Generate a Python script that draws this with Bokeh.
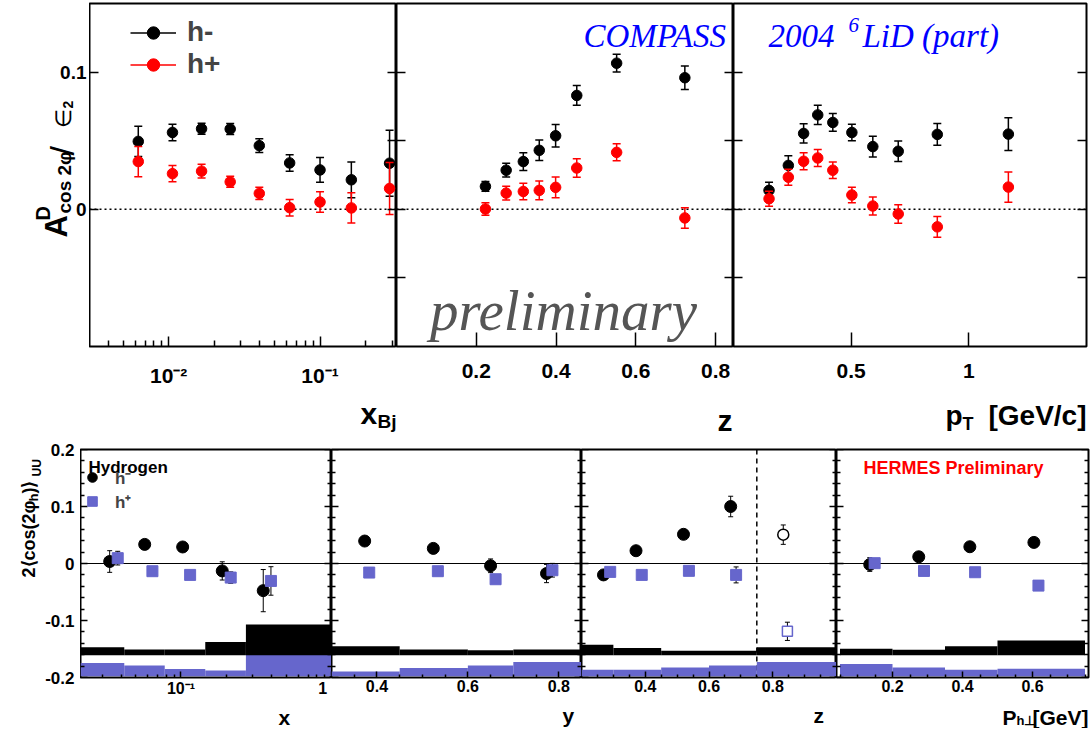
import math
from bokeh.plotting import figure
from bokeh.models import (ColumnDataSource, FixedTicker, LinearAxis, Span, Label,
                          Legend, LegendItem, CustomJSTickFormatter, Range1d)
from bokeh.layouts import row, column
from bokeh.embed import file_html
from bokeh.resources import INLINE

# ================= COMPASS 2004 6LiD (part) : top row =================
xbj = [0.0063, 0.0106, 0.0165, 0.0255, 0.0397, 0.063, 0.100, 0.161, 0.288]
xbj_hm = [0.0495, 0.0560, 0.0587, 0.0585, 0.0464, 0.0338, 0.0287, 0.0215, 0.0336]
xbj_hm_err = [0.011, 0.006, 0.004, 0.004, 0.005, 0.006, 0.009, 0.013, 0.024]
xbj_hp = [0.0348, 0.0260, 0.0278, 0.0200, 0.0116, 0.0012, 0.0053, 0.0010, 0.0152]
xbj_hp_err = [0.011, 0.006, 0.005, 0.004, 0.0045, 0.006, 0.0075, 0.011, 0.019]

zc = [0.223, 0.275, 0.318, 0.358, 0.399, 0.452, 0.552, 0.723]
zc_hm = [0.0167, 0.0285, 0.0348, 0.0430, 0.0536, 0.0830, 0.1065, 0.0959]
zc_hm_err = [0.0036, 0.0050, 0.0065, 0.0075, 0.0082, 0.0072, 0.0065, 0.0085]
zc_hp = [0.0002, 0.0118, 0.0130, 0.0138, 0.0160, 0.0301, 0.0415, -0.0063]
zc_hp_err = [0.0045, 0.0050, 0.0060, 0.0068, 0.0075, 0.0068, 0.0062, 0.0075]

pt = [0.151, 0.233, 0.298, 0.358, 0.422, 0.503, 0.592, 0.700, 0.866, 1.168]
pt_hm = [0.0138, 0.0320, 0.0553, 0.0688, 0.0633, 0.0560, 0.0457, 0.0423, 0.0546, 0.0548]
pt_hm_err = [0.006, 0.007, 0.007, 0.007, 0.0065, 0.006, 0.0075, 0.0075, 0.008, 0.012]
pt_hp = [0.0077, 0.0234, 0.0350, 0.0374, 0.0285, 0.0104, 0.0024, -0.0034, -0.0128, 0.0162]
pt_hp_err = [0.0055, 0.0058, 0.0062, 0.0062, 0.0060, 0.0057, 0.0065, 0.0068, 0.0075, 0.011]

c_y_range = (-0.1, 0.15)
c_xbj_range = (0.003, 0.32)
c_z_range = (0.0, 0.845)
c_pt_range = (0.0, 1.5)

c_y_ticks = [-0.05, 0.0, 0.05, 0.1]
c_y_label_ticks = [0.0, 0.1]
c_y_labels = ["0", "0.1"]
c_xbj_ticks = [0.01, 0.1]
c_xbj_labels = ["10\u207b\u00b2", "10\u207b\u00b9"]
c_xbj_minor = [k * 0.001 for k in range(4, 10)] + [k * 0.01 for k in range(2, 10)] + [0.2, 0.3]
c_z_ticks = [0.2, 0.4, 0.6, 0.8]
c_z_labels = ["0.2", "0.4", "0.6", "0.8"]
c_pt_ticks = [0.5, 1.0]
c_pt_labels = ["0.5", "1"]

# ================= HERMES Preliminary (hydrogen) : bottom row =================
h_y_range = (-0.2, 0.2)
hx_range = (0.0215, 1.0)
hy_range = (0.3, 0.85)
hz_range = (0.2, 1.0)
hp_range = (0.04, 0.76)

hx_hm_x = [0.0336, 0.0574, 0.1026, 0.188, 0.352]
hx_hm = [0.0035, 0.0335, 0.029, -0.013, -0.0476]
hx_hm_err = [0.019, 0.004, 0.004, 0.016, 0.037]
hx_hp_x = [0.038, 0.0646, 0.115, 0.214, 0.396]
hx_hp = [0.0094, -0.0135, -0.020, -0.0247, -0.0306]
hx_hp_err = [0.012, 0.004, 0.004, 0.010, 0.025]
hx_edges = [0.0215, 0.042, 0.078, 0.145, 0.27, 1.0]
hx_hm_sys = [0.014, 0.010, 0.010, 0.0234, 0.054]
hx_hp_sys = [0.0233, 0.019, 0.013, 0.0104, 0.039]

hy_hm_x = [0.373, 0.524, 0.650, 0.773]
hy_hm = [0.0394, 0.0265, -0.004, -0.0176]
hy_hm_err = [0.004, 0.004, 0.012, 0.016]
hy_hp_x = [0.383, 0.534, 0.661, 0.786]
hy_hp = [-0.0159, -0.0135, -0.0276, -0.0118]
hy_hp_err = [0.004, 0.004, 0.006, 0.012]
hy_edges = [0.3, 0.45, 0.6, 0.7, 0.85]
hy_hm_sys = [0.016, 0.010, 0.009, 0.010]
hy_hp_sys = [0.0086, 0.0145, 0.019, 0.025]

hz_hm_x = [0.269, 0.371, 0.520, 0.668]
hz_hm = [-0.020, 0.0224, 0.0512, 0.100]
hz_hm_err = [0.005, 0.004, 0.005, 0.018]
hz_hp_x = [0.290, 0.389, 0.537, 0.685]
hz_hp = [-0.0147, -0.020, -0.0129, -0.020]
hz_hp_err = [0.004, 0.004, 0.004, 0.014]
hz_hm_open_x = [0.833]
hz_hm_open = [0.0506]
hz_hm_open_err = [0.017]
hz_hp_open_x = [0.846]
hz_hp_open = [-0.119]
hz_hp_open_err = [0.016]
hz_cut = 0.75
hz_edges = [0.2, 0.3, 0.45, 0.6, 0.75, 1.0]
hz_hm_sys = [0.0186, 0.0128, 0.0081, 0.0081, 0.014]
hz_hp_sys = [0.0115, 0.0115, 0.0156, 0.0192, 0.025]

hp_hm_x = [0.135, 0.275, 0.421, 0.604]
hp_hm = [-0.0018, 0.0118, 0.0294, 0.037]
hp_hm_err = [0.012, 0.004, 0.004, 0.008]
hp_hp_x = [0.149, 0.290, 0.436, 0.617]
hp_hp = [0.0006, -0.013, -0.0153, -0.0388]
hp_hp_err = [0.005, 0.004, 0.004, 0.004]
hp_edges = [0.05, 0.2, 0.35, 0.5, 0.75]
hp_hm_sys = [0.0116, 0.0098, 0.0157, 0.0257]
hp_hp_sys = [0.0215, 0.0156, 0.0115, 0.0133]

sys_base_hm = -0.161
sys_base_hp = -0.198

h_y_ticks = [-0.2, -0.1, 0.0, 0.1, 0.2]
h_y_labels = ["-0.2", "-0.1", "0", "0.1", "0.2"]
h_y_minor = [round(-0.2 + 0.02 * k, 3) for k in range(21) if k % 5 != 0]
hx_ticks = [0.1, 1.0]
hx_labels = ["10\u207b\u00b9", "1 "]
hx_minor = [k * 0.01 for k in range(3, 10)] + [k * 0.1 for k in range(2, 10)]
hy_ticks = [0.4, 0.6, 0.8]
hy_labels = ["0.4", "0.6", "0.8"]
hy_minor = [0.35, 0.45, 0.5, 0.55, 0.65, 0.7, 0.75]
hz_ticks = [0.4, 0.6, 0.8]
hz_labels = ["0.4", "0.6", "0.8"]
hz_minor = [0.25, 0.3, 0.35, 0.45, 0.5, 0.55, 0.65, 0.7, 0.75, 0.85, 0.9, 0.95]
hp_ticks = [0.2, 0.4, 0.6]
hp_labels = ["0.2", "0.4", "0.6"]
hp_minor = [0.05, 0.1, 0.15, 0.25, 0.3, 0.35, 0.45, 0.5, 0.55, 0.65, 0.7, 0.75]

# ================= styling / geometry (page pixels) =================
SANS = "Liberation Sans"
SERIF = "Liberation Serif"
RED = "#ff0000"
PURPLE = "#6666cc"
BLUE = "#0000ff"

TOP_H, TOP_BT, TOP_FH = 390, 3, 343          # top row: frames 3..346
TOP_TITLE_H = 46                              # 390..436
BOT_H, BOT_BT, BOT_FH = 265, 13, 228         # bottom row: frames 449..677
BOT_TITLE_H = 27                              # 701..728
TOP_SW = 89                                   # left strip (top row)
BOT_TW, BOT_AW = 42, 38                       # title strip + tick-label strip (bottom row)
BOT_SW = BOT_TW + BOT_AW
top_fw = [307, 337, 353]
bot_fw = [251, 250, 255, 252]
TOP_BR, BOT_BR = 5, 3
TOP_FT = TOP_BT
BOT_ROW_Y = TOP_H + TOP_TITLE_H
BOT_FT = BOT_ROW_Y + BOT_BT
top_fl = [TOP_SW, TOP_SW + top_fw[0], TOP_SW + top_fw[0] + top_fw[1]]
bot_fl = [BOT_SW]
for w in bot_fw[:-1]:
    bot_fl.append(bot_fl[-1] + w)


def fmt(ticks, labels):
    return CustomJSTickFormatter(
        args=dict(tv=list(ticks), tl=list(labels)),
        code="for (let i = 0; i < tv.length; i++) {"
             " if (Math.abs(tv[i] - tick) < 1e-9) return tl[i]; }"
             " return '';")


def base_fig(width, height, xr, yr, xlog=False, bl=0, br=0, bt=0, bb=0):
    p = figure(width=width, height=height, x_range=Range1d(*xr), y_range=Range1d(*yr),
               x_axis_type=("log" if xlog else "linear"), output_backend="svg",
               toolbar_location=None, title=None,
               min_border_left=bl, min_border_right=br, min_border_top=bt, min_border_bottom=bb)
    p.xgrid.visible = False
    p.ygrid.visible = False
    p.background_fill_color = "white"
    p.border_fill_color = "white"
    return p


def panel(xr, yr, xlog, fw, br, h, bt, fh):
    p = base_fig(fw + br, h, xr, yr, xlog, 0, br, bt, h - bt - fh)
    p.outline_line_color = "black"
    p.outline_line_width = 2
    return p


def strip(width, height, xr, yr, bl=0, bt=0, bb=0):
    s = base_fig(width, height, xr, yr, bl=bl, bt=bt, bb=bb)
    for ax in s.axis:
        ax.visible = False
    s.outline_line_color = None
    return s


def style_ax(ax, ticks, minor, major_in, minor_in, labels=None, size=16, standoff=3, lw=1.5):
    ax.ticker = FixedTicker(ticks=list(ticks), minor_ticks=list(minor))
    ax.axis_line_color = None
    ax.major_tick_in = major_in
    ax.major_tick_out = 0
    ax.minor_tick_in = minor_in
    ax.minor_tick_out = 0
    ax.major_tick_line_width = lw
    ax.minor_tick_line_width = lw
    ax.major_tick_line_color = "black"
    ax.minor_tick_line_color = "black"
    if labels is None:
        ax.major_label_text_font_size = "0px"
        ax.major_label_text_color = None
    else:
        ax.formatter = fmt(ticks, labels)
        ax.major_label_text_font = SANS
        ax.major_label_text_font_style = "bold"
        ax.major_label_text_font_size = f"{size}px"
        ax.major_label_text_color = "black"
        ax.major_label_standoff = standoff


def side_axes(p, xr, ticks, minor, major_in, minor_in, left_ticks=None):
    p.yaxis[0].fixed_location = xr[0]
    style_ax(p.yaxis[0], left_ticks if left_ticks is not None else ticks, minor, major_in, minor_in)
    r = LinearAxis(fixed_location=xr[1])
    style_ax(r, ticks, minor, major_in, minor_in)
    p.add_layout(r, "right")


def mapper(fl, fw, ft, fh, xr, yr, xlog):
    def fx(px):
        t = (px - fl) / fw
        if xlog:
            a, b = math.log10(xr[0]), math.log10(xr[1])
            return 10 ** (a + t * (b - a))
        return xr[0] + t * (xr[1] - xr[0])

    def fy(py):
        t = (ft + fh - py) / fh
        return yr[0] + t * (yr[1] - yr[0])
    return fx, fy


def text(p, m, px, py, s, size, color="black", font=SANS, style="bold", align="left", angle=0.0):
    fx, fy = m
    p.add_layout(Label(x=fx(px), y=fy(py), text=s, text_font=font, text_font_style=style,
                       text_font_size=f"{size}px", text_color=color, text_align=align,
                       text_baseline="alphabetic", angle=angle))


def series(p, x, y, e, color, size, marker="circle", ecolor=None, lw=1.5, cap=8,
           fill=None, mline=None, mlw=1.0):
    ecolor = ecolor or color
    lo = [v - d for v, d in zip(y, e)]
    hi = [v + d for v, d in zip(y, e)]
    src = ColumnDataSource(dict(x=list(x), y=list(y), lo=lo, hi=hi))
    seg = p.segment(x0="x", y0="lo", x1="x", y1="hi", source=src, line_color=ecolor, line_width=lw)
    for key in ("lo", "hi"):
        p.scatter(x="x", y=key, source=src, marker="dash", size=cap, line_color=ecolor, line_width=lw)
    sc = p.scatter(x="x", y="y", source=src, marker=marker, size=size,
                   fill_color=(fill if fill is not None else color),
                   line_color=(mline if mline is not None else color), line_width=mlw)
    return seg, sc


def bands(p, edges, sysv, base, color):
    src = ColumnDataSource(dict(l=edges[:-1], r=edges[1:], b=[base] * len(sysv),
                                t=[base + s for s in sysv]))
    p.quad(left="l", right="r", bottom="b", top="t", source=src, fill_color=color, line_color=None)


ROT = math.pi / 2

# ================= top row =================
fA = panel(c_xbj_range, c_y_range, True, top_fw[0], 0, TOP_H, TOP_BT, TOP_FH)
fB = panel(c_z_range, c_y_range, False, top_fw[1], 0, TOP_H, TOP_BT, TOP_FH)
fC = panel(c_pt_range, c_y_range, False, top_fw[2], TOP_BR, TOP_H, TOP_BT, TOP_FH)
mA = mapper(top_fl[0], top_fw[0], TOP_FT, TOP_FH, c_xbj_range, c_y_range, True)
mB = mapper(top_fl[1], top_fw[1], TOP_FT, TOP_FH, c_z_range, c_y_range, False)
mC = mapper(top_fl[2], top_fw[2], TOP_FT, TOP_FH, c_pt_range, c_y_range, False)

style_ax(fA.xaxis[0], c_xbj_ticks, c_xbj_minor, 10, 6, c_xbj_labels, 21, 17)
side_axes(fA, c_xbj_range, c_y_ticks, [], 9, 0, left_ticks=c_y_label_ticks)
style_ax(fB.xaxis[0], c_z_ticks, [], 14, 0, c_z_labels, 21, 17)
side_axes(fB, c_z_range, c_y_ticks, [], 9, 0)
style_ax(fC.xaxis[0], c_pt_ticks, [], 14, 0, c_pt_labels, 21, 17)
side_axes(fC, c_pt_range, c_y_ticks, [], 9, 0)

for f in (fA, fB, fC):
    f.add_layout(Span(location=0, dimension="width", line_color="black", line_width=1.5,
                      line_dash="2 3", level="underlay"))

segA_m, scA_m = series(fA, xbj, xbj_hm, xbj_hm_err, "black", 10.5)
segA_p, scA_p = series(fA, xbj, xbj_hp, xbj_hp_err, RED, 10.5)
series(fB, zc, zc_hm, zc_hm_err, "black", 10.5)
series(fB, zc, zc_hp, zc_hp_err, RED, 10.5)
series(fC, pt, pt_hm, pt_hm_err, "black", 10.5)
series(fC, pt, pt_hp, pt_hp_err, RED, 10.5)

legA = Legend(items=[LegendItem(label="h-", renderers=[segA_m, scA_m]),
                     LegendItem(label="h+", renderers=[segA_p, scA_p])],
              location=(41, 266), glyph_width=46, glyph_height=31, spacing=0, padding=0,
              margin=0, label_standoff=11, label_text_font=SANS, label_text_font_style="bold",
              label_text_font_size="28px", border_line_color=None, background_fill_alpha=0)
fA.add_layout(legA)

text(fB, mB, 583, 35, "COMPASS", 33, color=BLUE, font=SERIF, style="italic")
text(fC, mC, 768, 35, "2004", 33, color=BLUE, font=SERIF, style="italic")
text(fC, mC, 848, 24, "6", 21, color=BLUE, font=SERIF, style="italic")
text(fC, mC, 862, 35, "LiD (part)", 33, color=BLUE, font=SERIF, style="italic")
text(fB, mB, 563, 310, "preliminary", 57, color="#555555", font=SERIF, style="italic", align="center")

# left strip of the top row (its frame lines up with the panel frames)
sA = strip(TOP_SW, TOP_H, (0, TOP_SW), c_y_range, bt=TOP_BT, bb=TOP_H - TOP_BT - TOP_FH)
axA = LinearAxis(fixed_location=TOP_SW)
style_ax(axA, c_y_label_ticks, [], 0, 0, c_y_labels, 19, 3)
sA.add_layout(axA, "left")
mSA = (lambda px: px, mA[1])
text(sA, mSA, 56, 237, "A", 31, angle=ROT)
text(sA, mSA, 42, 220, "D", 20, angle=ROT)
text(sA, mSA, 64, 213, "cos 2\u03c6", 19, angle=ROT)
text(sA, mSA, 61, 155, "/", 34, style="normal", angle=ROT)
text(sA, mSA, 63, 127, "\u2208", 22, style="normal", angle=ROT)
text(sA, mSA, 67, 108, "2", 14, angle=ROT)

# title strip below the top row (data units = page pixels)
TW = TOP_SW + sum(top_fw) + TOP_BR
tT = strip(TW, TOP_TITLE_H, (0, TW), (TOP_H + TOP_TITLE_H, TOP_H))
mT = (lambda px: px, lambda py: py)
text(tT, mT, 360, 413, "x", 30)
text(tT, mT, 377, 421, "Bj", 19)
text(tT, mT, 732, 420, "z", 30, align="right")
text(tT, mT, 945, 415, "p", 28)
text(tT, mT, 962, 423, "T", 18)
text(tT, mT, 1086, 415, "[GeV/c]", 28, align="right")

# ================= bottom row =================
P1 = panel(hx_range, h_y_range, True, bot_fw[0], 0, BOT_H, BOT_BT, BOT_FH)
P2 = panel(hy_range, h_y_range, False, bot_fw[1], 0, BOT_H, BOT_BT, BOT_FH)
P3 = panel(hz_range, h_y_range, False, bot_fw[2], 0, BOT_H, BOT_BT, BOT_FH)
P4 = panel(hp_range, h_y_range, False, bot_fw[3], BOT_BR, BOT_H, BOT_BT, BOT_FH)
m1 = mapper(bot_fl[0], bot_fw[0], BOT_FT, BOT_FH, hx_range, h_y_range, True)
m2 = mapper(bot_fl[1], bot_fw[1], BOT_FT, BOT_FH, hy_range, h_y_range, False)
m3 = mapper(bot_fl[2], bot_fw[2], BOT_FT, BOT_FH, hz_range, h_y_range, False)
m4 = mapper(bot_fl[3], bot_fw[3], BOT_FT, BOT_FH, hp_range, h_y_range, False)

for P, rng, tk, mn, lb in ((P1, hx_range, hx_ticks, hx_minor, hx_labels),
                           (P2, hy_range, hy_ticks, hy_minor, hy_labels),
                           (P3, hz_range, hz_ticks, hz_minor, hz_labels),
                           (P4, hp_range, hp_ticks, hp_minor, hp_labels)):
    style_ax(P.xaxis[0], tk, mn, 6, 3, lb, 16, 2)
    side_axes(P, rng, h_y_ticks, h_y_minor, 7, 4)

for P, edges, s_m, s_p in ((P1, hx_edges, hx_hm_sys, hx_hp_sys),
                           (P2, hy_edges, hy_hm_sys, hy_hp_sys),
                           (P3, hz_edges, hz_hm_sys, hz_hp_sys),
                           (P4, hp_edges, hp_hm_sys, hp_hp_sys)):
    bands(P, edges, s_p, sys_base_hp, PURPLE)
    bands(P, edges, s_m, sys_base_hm, "black")
    P.add_layout(Span(location=0, dimension="width", line_color="black", line_width=1,
                      level="underlay"))

P3.add_layout(Span(location=hz_cut, dimension="height", line_color="black", line_width=1.5,
                   line_dash="5 4", level="underlay"))

_, sc1_m = series(P1, hx_hm_x, hx_hm, hx_hm_err, "black", 12, ecolor="black", lw=1, cap=5)
_, sc1_p = series(P1, hx_hp_x, hx_hp, hx_hp_err, PURPLE, 11, marker="square", ecolor="black", lw=1, cap=5)
series(P2, hy_hm_x, hy_hm, hy_hm_err, "black", 12, ecolor="black", lw=1, cap=5)
series(P2, hy_hp_x, hy_hp, hy_hp_err, PURPLE, 11, marker="square", ecolor="black", lw=1, cap=5)
series(P3, hz_hm_x, hz_hm, hz_hm_err, "black", 12, ecolor="black", lw=1, cap=5)
series(P3, hz_hp_x, hz_hp, hz_hp_err, PURPLE, 11, marker="square", ecolor="black", lw=1, cap=5)
series(P3, hz_hm_open_x, hz_hm_open, hz_hm_open_err, "black", 11, ecolor="black", lw=1, cap=5,
       fill="white", mline="black", mlw=1.5)
series(P3, hz_hp_open_x, hz_hp_open, hz_hp_open_err, PURPLE, 10, marker="square", ecolor="black",
       lw=1, cap=5, fill="white", mline=PURPLE, mlw=1.5)
series(P4, hp_hm_x, hp_hm, hp_hm_err, "black", 12, ecolor="black", lw=1, cap=5)
series(P4, hp_hp_x, hp_hp, hp_hp_err, PURPLE, 11, marker="square", ecolor="black", lw=1, cap=5)

legB = Legend(items=[LegendItem(label="h\u207b", renderers=[sc1_m]),
                     LegendItem(label="h\u207a", renderers=[sc1_p])],
              location=(0, 164), glyph_width=24, glyph_height=24, spacing=0, padding=0,
              margin=0, label_standoff=11, label_height=20, label_text_font=SANS,
              label_text_font_style="bold", label_text_font_size="17px",
              border_line_color=None, background_fill_alpha=0)
P1.add_layout(legB)
text(P1, m1, 88, 467, "Hydrogen", 17)
text(P4, m4, 863, 467, "HERMES Preliminary", 18, color=RED)

# bottom-left: rotated title strip and tick-label strip (frames line up with the panels)
BB = BOT_H - BOT_BT - BOT_FH
sBt = strip(BOT_TW, BOT_H, (0, BOT_TW), h_y_range, bt=BOT_BT, bb=BB)
mSB = (lambda px: px, m1[1])
text(sBt, mSB, 28, 577, "2\u27e8cos(2\u03c6", 18, angle=ROT)
text(sBt, mSB, 33, 501, "h", 13, angle=ROT)
text(sBt, mSB, 28, 493, ")\u27e9", 18, angle=ROT)
text(sBt, mSB, 36, 476, "UU", 12, angle=ROT)

sBa = base_fig(BOT_AW, BOT_H, (0, 1), h_y_range, bl=BOT_AW - 1, bt=BOT_BT, bb=BB)
sBa.xaxis[0].visible = False
sBa.outline_line_color = None
style_ax(sBa.yaxis[0], h_y_ticks, [], 0, 0, h_y_labels, 17, 5)

# title strip below the bottom row
y0 = BOT_ROW_Y + BOT_H
BW = BOT_SW + sum(bot_fw) + BOT_BR
tB = strip(BW, BOT_TITLE_H, (0, BW), (y0 + BOT_TITLE_H, y0))
mTB = (lambda px: px, lambda py: py)
text(tB, mTB, 278, 717, "x", 21)
text(tB, mTB, 562, 715, "y", 21)
text(tB, mTB, 813, 715, "z", 21)
text(tB, mTB, 1002, 717, "P", 21)
text(tB, mTB, 1016, 720, "h\u22a5", 13)
text(tB, mTB, 1088, 717, "[GeV]", 21, align="right")

layout = column(row(sA, fA, fB, fC), tT, row(sBt, sBa, P1, P2, P3, P4), tB)
open("out.html", "w").write(file_html(layout, INLINE))
